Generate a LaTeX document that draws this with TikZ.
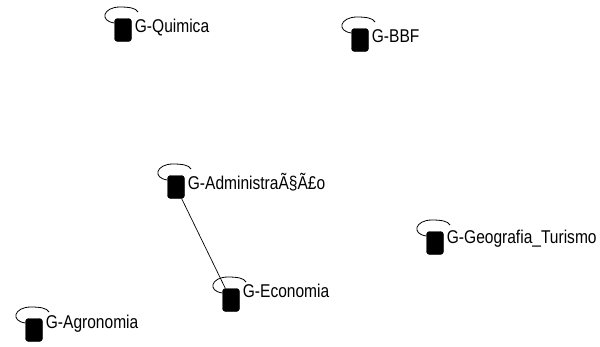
\documentclass[tikz,border=0pt]{standalone}
\usepackage{fontspec}
\setmainfont{Liberation Sans}[FakeStretch=0.84]
\begin{document}
\begin{tikzpicture}[x=1pt,y=-1pt,
  vbox/.style={draw=black,fill=black,rounded corners=3pt,minimum width=17pt,minimum height=23pt,inner sep=0pt},
  lbl/.style={anchor=base west,inner sep=0pt,font=\fontsize{18.5}{21}\selectfont},
  loopln/.style={draw=black,line width=0.8pt},
  edge/.style={draw=black,line width=0.7pt}]
\useasboundingbox (0,0) rectangle (600,346);
\clip (0,0) rectangle (600,346);
\newcommand\gnode[5]{%
  \node[vbox] (#1) at (#2,#3) {};
  \node[lbl] (#1l) at ([xshift=3pt]#1.east |- 0,#5) {#4};
  \draw[loopln] ([shift={(-8.5,-7)}]#1.center) .. controls ([shift={(-24,-9)}]#1.center) and ([shift={(-20,-23)}]#1.center) .. ([shift={(-3,-23)}]#1.center) .. controls ([shift={(6,-23)}]#1.center) and ([shift={(13,-22)}]#1.center) .. ([shift={(15,-18)}]#1.center);
}
\gnode{q}{123}{30}{G-Quimica}{32}
\gnode{b}{360}{40}{G-BBF}{42}
\gnode{a}{176}{187}{G-AdministraÃ§Ã£o}{189}
\gnode{g}{435}{243}{G-Geografia\_Turismo}{243}
\gnode{e}{231}{300}{G-Economia}{297}
\gnode{r}{34}{330}{G-Agronomia}{328}
\draw[edge] (a) -- (e);
\end{tikzpicture}
\end{document}
